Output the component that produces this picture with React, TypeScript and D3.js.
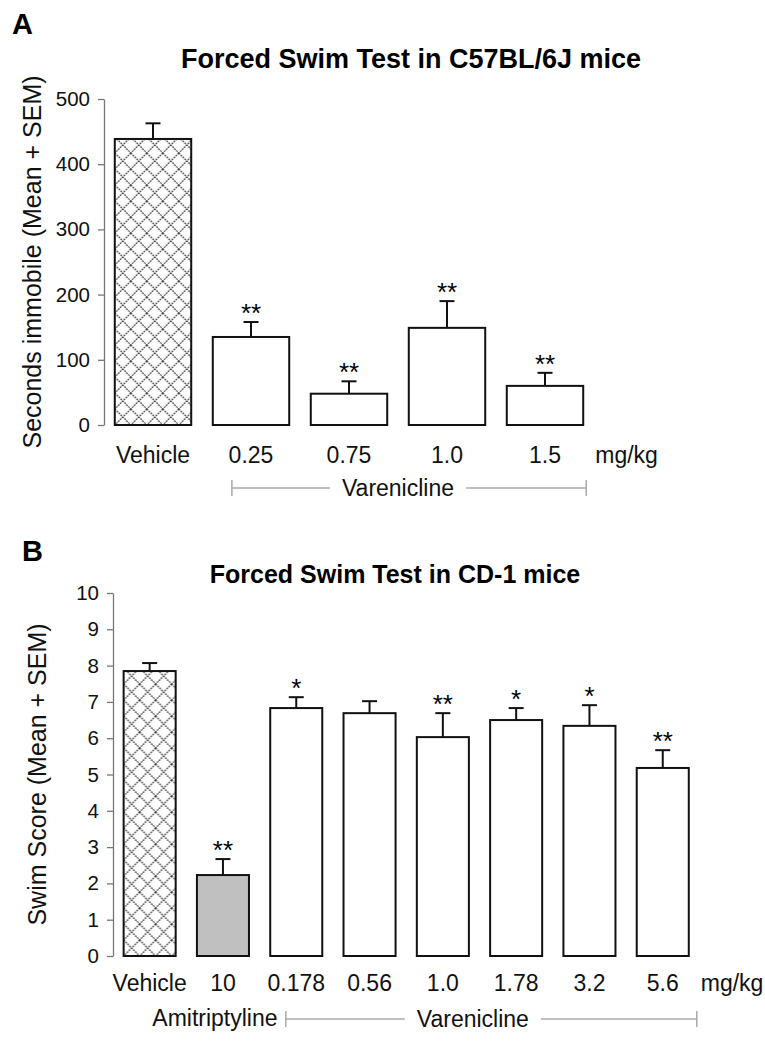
import React, { useEffect, useRef } from 'react';
import * as d3 from 'd3';

// Panel A: Forced Swim Test in C57BL/6J mice
const catsA = ['Vehicle', '0.25', '0.75', '1.0', '1.5'];
const meanA = [438.7, 135, 48, 149, 60];
const semA = [24, 23, 19, 41, 20];
const sigA = ['', '**', '**', '**', '**'];
const fillA = ['hatch', 'white', 'white', 'white', 'white'];
const ticksA = [0, 100, 200, 300, 400, 500];

// Panel B: Forced Swim Test in CD-1 mice
const catsB = ['Vehicle', '10', '0.178', '0.56', '1.0', '1.78', '3.2', '5.6'];
const meanB = [7.85, 2.23, 6.83, 6.69, 6.03, 6.5, 6.34, 5.18];
const semB = [0.22, 0.44, 0.3, 0.33, 0.66, 0.33, 0.57, 0.49];
const sigB = ['', '**', '*', '', '**', '*', '*', '**'];
const fillB = ['hatch', '#c0c0c0', 'white', 'white', 'white', 'white', 'white', 'white'];
const ticksB = [0, 1, 2, 3, 4, 5, 6, 7, 8, 9, 10];

const FONT = '"Liberation Sans", Arial, Helvetica, sans-serif';

interface PanelCfg {
  id: string;
  letter: string;
  letterX: number;
  letterY: number;
  title: string;
  titleX: number;
  titleY: number;
  titleSize: number;
  yLabel: string;
  yLabelX: number;
  cats: string[];
  mean: number[];
  sem: number[];
  sig: string[];
  fill: string[];
  ticks: number[];
  yMax: number;
  x0: number;
  step: number;
  pad: number;
  yTop: number;
  yBottom: number;
  catY: number;
}

export default function App() {
  const svgRef = useRef<SVGSVGElement>(null);

  useEffect(() => {
    if (!svgRef.current) return;
    const svg = d3.select(svgRef.current);
    svg.selectAll('*').remove();

    const defs = svg.append('defs');
    const drawPanel = (c: PanelCfg, extra: (g: any, x: any, bw: number) => void) => {
      const n = c.cats.length;
      const x = d3.scaleBand<string>()
        .domain(c.cats)
        .range([c.x0, c.x0 + c.step * n])
        .paddingInner(c.pad)
        .paddingOuter(c.pad / 2);
      const y = d3.scaleLinear().domain([0, c.yMax]).range([c.yBottom, c.yTop]);
      const bw = x.bandwidth();

      // hatch pattern
      const pat = defs.append('pattern')
        .attr('id', 'hatch' + c.id)
        .attr('patternUnits', 'userSpaceOnUse')
        .attr('width', 16)
        .attr('height', 16)
        .attr('x', x(c.cats[0])!)
        .attr('y', c.yBottom);
      pat.append('rect').attr('width', 16).attr('height', 16).attr('fill', 'white');
      pat.append('path')
        .attr('d', 'M0,0L16,16M16,0L0,16M-2,14L2,18M14,-2L18,2')
        .attr('stroke', '#444')
        .attr('stroke-width', 1.3)
        .attr('stroke-dasharray', '1.8 0.9');

      const g = svg.append('g');

      // panel letter
      g.append('text')
        .attr('x', c.letterX).attr('y', c.letterY)
        .attr('font-size', 29).attr('font-weight', 'bold')
        .attr('font-family', FONT)
        .text(c.letter);

      // title
      g.append('text')
        .attr('x', c.titleX).attr('y', c.titleY)
        .attr('text-anchor', 'middle')
        .attr('font-size', c.titleSize).attr('font-weight', 'bold')
        .attr('font-family', FONT)
        .text(c.title);

      // y axis
      const axis = g.append('g')
        .attr('transform', `translate(${c.x0},0)`)
        .call(d3.axisLeft(y).tickValues(c.ticks).tickSize(6).tickSizeOuter(0).tickPadding(8));
      axis.select('.domain').attr('stroke', '#777').attr('stroke-width', 1.3);
      axis.selectAll('.tick line').attr('stroke', '#777').attr('stroke-width', 1.3);
      axis.selectAll('.tick text')
        .attr('font-size', 20.5).attr('font-family', FONT).attr('fill', '#111');

      // y label
      g.append('text')
        .attr('transform', `translate(${c.yLabelX},${(c.yTop + c.yBottom) / 2}) rotate(-90)`)
        .attr('text-anchor', 'middle')
        .attr('font-size', 25)
        .attr('font-family', FONT)
        .attr('fill', '#111')
        .text(c.yLabel);

      // bars
      c.cats.forEach((cat, i) => {
        const bx = x(cat)!;
        const top = y(c.mean[i]);
        const errTop = y(c.mean[i] + c.sem[i]);
        const cx = bx + bw / 2;
        // error bar
        g.append('line')
          .attr('x1', cx).attr('x2', cx).attr('y1', top).attr('y2', errTop)
          .attr('stroke', '#111').attr('stroke-width', 2);
        g.append('line')
          .attr('x1', cx - 7.5).attr('x2', cx + 7.5).attr('y1', errTop).attr('y2', errTop)
          .attr('stroke', '#111').attr('stroke-width', 2);
        g.append('rect')
          .attr('x', bx).attr('y', top)
          .attr('width', bw).attr('height', c.yBottom - top)
          .attr('fill', c.fill[i] === 'hatch' ? `url(#hatch${c.id})` : c.fill[i])
          .attr('stroke', '#111').attr('stroke-width', 2);
        if (c.sig[i]) {
          g.append('text')
            .attr('x', cx).attr('y', errTop)
            .attr('text-anchor', 'middle')
            .attr('font-size', 26)
            .attr('font-family', FONT)
            .text(c.sig[i]);
        }
        g.append('text')
          .attr('x', cx).attr('y', c.catY)
          .attr('text-anchor', 'middle')
          .attr('font-size', 23)
          .attr('font-family', FONT)
          .attr('fill', '#111')
          .text(cat);
      });

      // unit label
      const last = c.cats[n - 1];
      g.append('text')
        .attr('x', x(last)! + bw + 12).attr('y', c.catY)
        .attr('font-size', 23)
        .attr('font-family', FONT)
        .attr('fill', '#111')
        .text('mg/kg');

      extra(g, x, bw);
    };

    const bracket = (g: any, left: number, right: number, yy: number, cx: number, label: string) => {
      const t = g.append('text')
        .attr('x', cx).attr('y', yy + 8)
        .attr('text-anchor', 'middle')
        .attr('font-size', 23)
        .attr('font-family', FONT)
        .attr('fill', '#111')
        .text(label);
      const w = (t.node() as SVGTextElement).getComputedTextLength();
      const gap = 12;
      const line = (x1: number, x2: number) =>
        g.append('line').attr('x1', x1).attr('x2', x2).attr('y1', yy).attr('y2', yy)
          .attr('stroke', '#aaa').attr('stroke-width', 1.5);
      line(left, cx - w / 2 - gap);
      line(cx + w / 2 + gap, right);
      [left, right].forEach((xx) =>
        g.append('line').attr('x1', xx).attr('x2', xx).attr('y1', yy - 8).attr('y2', yy + 8)
          .attr('stroke', '#aaa').attr('stroke-width', 1.5));
    };

    drawPanel({
      id: 'A', letter: 'A', letterX: 12, letterY: 34,
      title: 'Forced Swim Test in C57BL/6J mice', titleX: 411, titleY: 68, titleSize: 27,
      yLabel: 'Seconds immobile (Mean + SEM)', yLabelX: 41,
      cats: catsA, mean: meanA, sem: semA, sig: sigA, fill: fillA, ticks: ticksA, yMax: 500,
      x0: 104, step: 98, pad: 0.22, yTop: 99, yBottom: 425,
      catY: 463,
    }, (g, x, bw) => {
      const left = x('0.25') + 0.25 * bw;
      const right = x('1.5') + bw + 3;
      const cx = (x('0.75') + x('1.0')) / 2 + bw / 2;
      bracket(g, left, right, 488, cx, 'Varenicline');
    });

    drawPanel({
      id: 'B', letter: 'B', letterX: 22, letterY: 561,
      title: 'Forced Swim Test in CD-1 mice', titleX: 395, titleY: 583, titleSize: 25,
      yLabel: 'Swim Score (Mean + SEM)', yLabelX: 46,
      cats: catsB, mean: meanB, sem: semB, sig: sigB, fill: fillB, ticks: ticksB, yMax: 10,
      x0: 113, step: 73.3, pad: 0.29, yTop: 593, yBottom: 956,
      catY: 991,
    }, (g, x, bw) => {
      const ami = x('10') + bw / 2;
      g.append('text')
        .attr('x', ami - 8).attr('y', 1026)
        .attr('text-anchor', 'middle')
        .attr('font-size', 23)
        .attr('font-family', FONT)
        .attr('fill', '#111')
        .text('Amitriptyline');
      const left = x('0.178') + 0.3 * bw;
      const right = x('5.6') + bw + 8;
      const cx = x('1.0') + bw / 2 + 30;
      bracket(g, left, right, 1019, cx, 'Varenicline');
    });
  }, []);

  return (
    <svg
      ref={svgRef}
      width={765}
      height={1050}
      style={{ position: 'absolute', left: 0, top: 0, background: 'white' }}
    />
  );
}
